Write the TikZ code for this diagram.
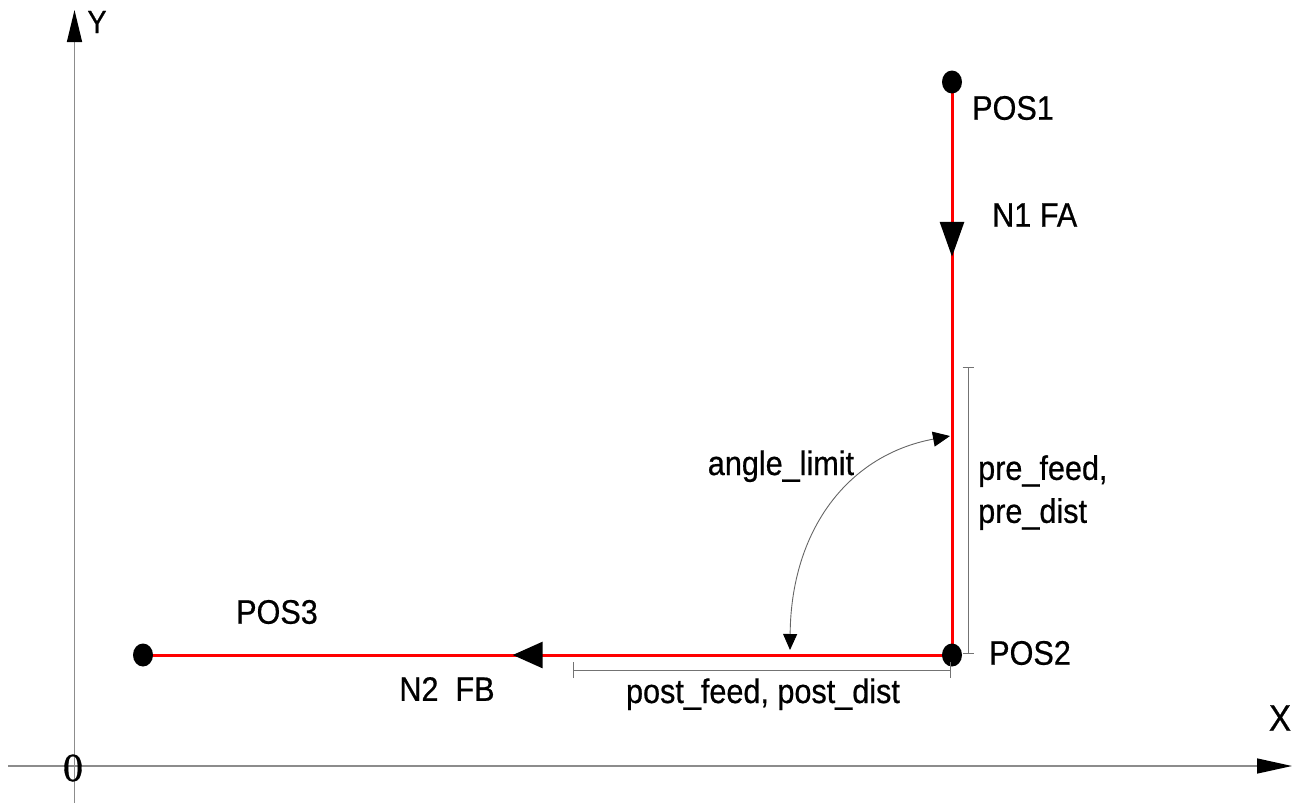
\documentclass[tikz,border=0pt]{standalone}
\usepackage{fontspec}
\setmainfont{Liberation Sans}[FakeStretch=0.9,FakeBold=0.6]
\newfontfamily\zerofont{Liberation Serif}[FakeBold=0.8]
\usetikzlibrary{arrows.meta,shapes.geometric,decorations.markings}
\begin{document}
\begin{tikzpicture}[x=1pt,y=-1pt,
  axisline/.style={draw=black!45, line width=1.4pt},
  redpath/.style={draw=red, line width=3pt},
  dotnode/.style={ellipse, fill=black, minimum width=20pt, minimum height=23pt, inner sep=0pt},
  dimline/.style={draw=black!55, line width=1pt},
  lbl/.style={font=\fontsize{34}{43}\selectfont, inner sep=0pt},
  midarrow/.style 2 args={postaction={decorate, decoration={markings,
     mark=at position #1 with {\arrow{#2}}}}}
]
\useasboundingbox (0,0) rectangle (1307,803);
% axes
\coordinate (xs) at (8,766);
\coordinate (xe) at (1292,766);
\coordinate (ys) at (74.5,803);
\coordinate (ye) at (74.5,10);
\draw[axisline, -{Triangle[length=35pt,width=15pt,color=black]}] (xs) -- (xe);
\draw[axisline, -{Triangle[length=32pt,width=15pt,color=black]}] (ys) -- (ye);
\node[lbl, font=\fontsize{32}{38}\selectfont] (ylab) at (97,22) {Y};
\node[lbl, font=\fontsize{37}{40}\selectfont] (xlab) at (1280,718) {X};
\node[inner sep=0pt, font=\zerofont\fontsize{40}{44}\selectfont] (zero) at (73,768) {0};
% path points
\coordinate (p1) at (952,82);
\coordinate (p2) at (952,655);
\coordinate (p3) at (143,655);
\draw[redpath, midarrow={0.305}{Triangle[length=35pt,width=24pt,color=black]}] (p1) -- (p2);
\draw[redpath, midarrow={0.543}{Triangle[length=30pt,width=26pt,color=black]}] (p2) -- (p3);
\node[dotnode] (pos1) at (p1) {};
\node[dotnode] (pos2) at (p2) {};
\node[dotnode] (pos3) at (p3) {};
% labels
\node[lbl, anchor=west] (l1) at (972,108) {POS1};
\node[lbl, anchor=west] (l2) at (989,653) {POS2};
\node[lbl] (l3) at (277,612) {POS3};
\node[lbl, anchor=west] (n1) at (992,215) {N1 FA};
\node[lbl] (n2) at (447,689) {N2\ \ FB};
% dimensions
\coordinate (pretop) at (968,367);
\coordinate (prebot) at (968,654);
\draw[dimline, {Bar[width=11pt]}-{Bar[width=11pt]}] (pretop) -- (prebot);
\coordinate (postl) at (573,670);
\coordinate (postr) at (951,670);
\draw[dimline, {Bar[width=16pt]}-{Bar[width=16pt]}] (postl) -- (postr);
\node[lbl, anchor=base] (postlab) at (763,703) {post\_feed, post\_dist};
\node[lbl, anchor=north west, align=left] (prelab) at (978,455) {pre\_feed,\\pre\_dist};
% angle
\coordinate (a1) at (790,650);
\coordinate (a2) at (950,436);
\draw[draw=black!60, line width=0.9pt, {Triangle[length=16pt,width=14pt,color=black]}-{Triangle[length=17pt,width=15pt,color=black]}]
  (a1) .. controls (791,530) and (848,455) .. (a2);
\node[lbl, anchor=base] (anglab) at (781,475) {angle\_limit};
\end{tikzpicture}
\end{document}
